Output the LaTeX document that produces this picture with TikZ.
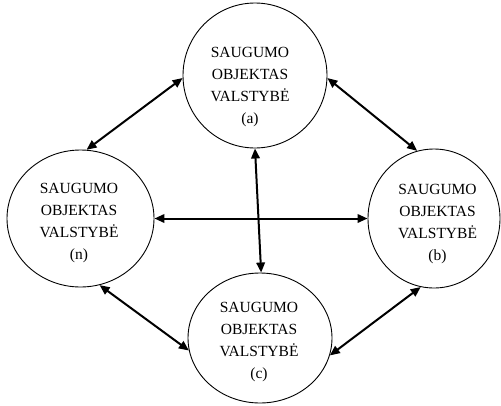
\documentclass[tikz,border=0pt]{standalone}
\usepackage{fontspec}
\setmainfont{Liberation Serif}
\usetikzlibrary{shapes.geometric,arrows.meta}

\begin{document}
\begin{tikzpicture}
[x=1pt, y=-1pt,
 state/.style={ellipse, draw=black, line width=0.9pt, inner sep=0pt},
 txt/.style={align=center, font=\fontsize{15.5}{21.7}\selectfont},
 link/.style={line width=2pt, {Triangle[length=10pt,width=8.5pt]}-{Triangle[length=10pt,width=8.5pt]}},
]
\useasboundingbox (0,0) rectangle (501,405);

%valstybe (a)
\node[state, minimum width=144pt, minimum height=145pt] (a) at (255,75.5) {};
\node[txt] (a-txt) at (250,87) {SAUGUMO\\OBJEKTAS\\VALSTYBĖ\\(a)};

%valstybe (n)
\node[state, minimum width=147pt, minimum height=137pt] (n) at (80.5,218.5) {};
\node[txt] (n-txt) at (79,223) {SAUGUMO\\OBJEKTAS\\VALSTYBĖ\\(n)};

%valstybe (b)
\node[state, minimum width=132pt, minimum height=139pt] (b) at (434,218.5) {};
\node[txt] (b-txt) at (437.5,224) {SAUGUMO\\OBJEKTAS\\VALSTYBĖ\\(b)};

%valstybe (c)
\node[state, minimum width=144pt, minimum height=130pt] (c) at (260,338) {};
\node[txt] (c-txt) at (259,342) {SAUGUMO\\OBJEKTAS\\VALSTYBĖ\\(c)};

%rysiai
\draw[link] (a.182) -- (n.85);
\draw[link] (a.358) -- (b.104);
\draw[link] (n.0) -- (b.180);
\draw[link] (a.270) -- (c.89);
\draw[link] (n.286) -- (c.190);
\draw[link] (b.259) -- (c.346);

\end{tikzpicture}
\end{document}
